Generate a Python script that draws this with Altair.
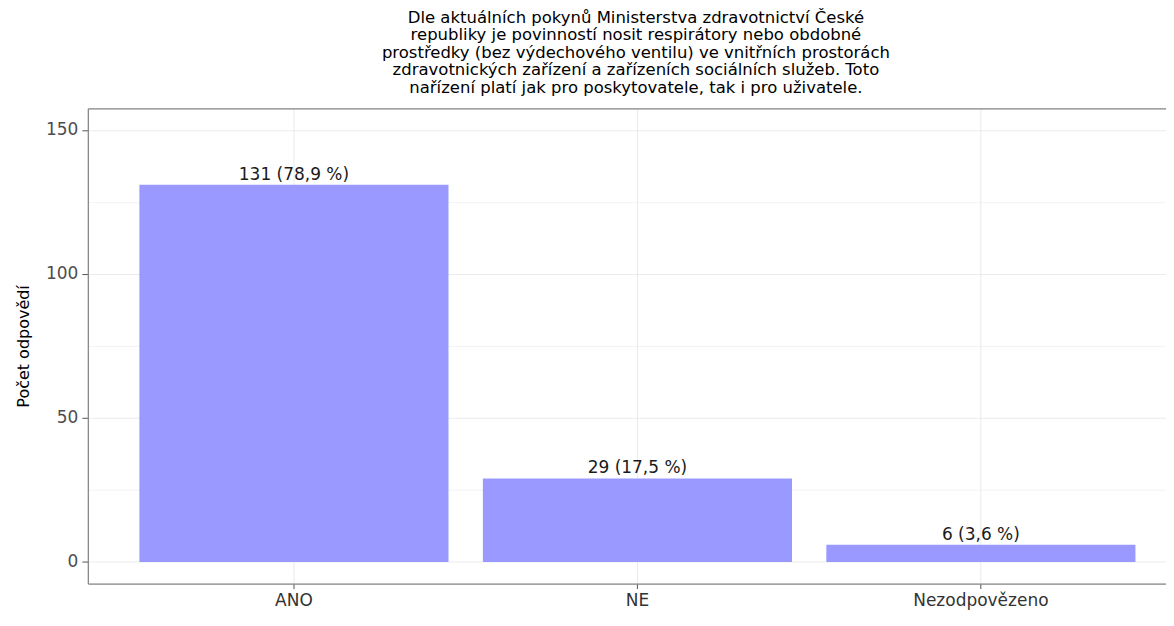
import altair as alt
import pandas as pd

categories = ["ANO", "NE", "Nezodpovězeno"]
counts = [131, 29, 6]
percents = ["78,9", "17,5", "3,6"]
title_lines = [
    "Dle aktuálních pokynů Ministerstva zdravotnictví České",
    "republiky je povinností nosit respirátory nebo obdobné",
    "prostředky (bez výdechového ventilu) ve vnitřních prostorách",
    "zdravotnických zařízení a zařízeních sociálních služeb. Toto",
    "nařízení platí jak pro poskytovatele, tak i pro uživatele.",
]
y_title = "Počet odpovědí"
y_ticks = [0, 25, 50, 75, 100, 125, 150]

df = pd.DataFrame({
    "kategorie": categories,
    "pocet": counts,
    "label": [f"{c} ({p} %)" for c, p in zip(counts, percents)],
})

FONT = "DejaVu Sans"
BORDER = "#8a8a8a"

xscale = alt.Scale(domain=categories, range=[0, 1101], paddingInner=0.1, paddingOuter=0.15)
yscale = alt.Scale(domain=[-7.5, 157.5], nice=False, zero=False)

is_major = "datum.value % 50 === 0"
yaxis = alt.Axis(
    orient="left",
    values=y_ticks,
    labelExpr=f"{is_major} ? datum.label : ''",
    title=y_title,
    titleFont=FONT, titleFontSize=16, titleFontWeight="normal", titleColor="#000000",
    titlePadding=14,
    labelFont=FONT, labelFontSize=17, labelColor="#4D4D4D", labelPadding=4,
    tickSize=6, tickColor="#555555",
    tickOpacity={"condition": {"test": is_major, "value": 1}, "value": 0},
    grid=True, gridColor="#EBEBEB",
    gridWidth={"condition": {"test": is_major, "value": 1.1}, "value": 0.6},
    domain=True, domainColor=BORDER, domainWidth=1.3,
)

bars = alt.Chart(df).mark_bar(color="#9999FF").encode(
    x=alt.X("kategorie:N", scale=xscale, sort=categories,
            axis=alt.Axis(orient="bottom", title=None, labelAngle=0, labelFont=FONT,
                          labelFontSize=17, labelColor="#333333", labelPadding=4,
                          tickSize=5, tickColor="#555555", bandPosition=0.5, grid=True,
                          gridColor="#EBEBEB", gridWidth=1.1,
                          domain=True, domainColor=BORDER, domainWidth=1.3)),
    y=alt.Y("pocet:Q", scale=yscale, axis=yaxis),
)

texts = alt.Chart(df).mark_text(
    font=FONT, fontSize=17, color="#1a1a1a", baseline="alphabetic", dy=-5
).encode(
    x=alt.X("kategorie:N", scale=xscale, sort=categories,
            axis=alt.Axis(orient="top", title=None, labels=False, ticks=False,
                          grid=False, domain=True, domainColor=BORDER, domainWidth=1.3)),
    y=alt.Y("pocet:Q", scale=yscale, axis=yaxis),
    text="label:N",
)

chart = alt.layer(bars, texts).resolve_axis(x="independent", y="shared").properties(
    width=1080,
    height=476,
    autosize=alt.AutoSizeParams(type="none"),
    padding={"left": 80, "top": 100, "right": 0, "bottom": 26},
    title=alt.TitleParams(
        text=title_lines, font=FONT, fontSize=16.5, fontWeight="normal",
        color="#000000", anchor="middle", lineHeight=17.5, offset=12, dx=9,
    ),
).configure_view(stroke=None).configure(background="white")

chart.save("out.html", embed_options={"renderer": "svg", "actions": False})
